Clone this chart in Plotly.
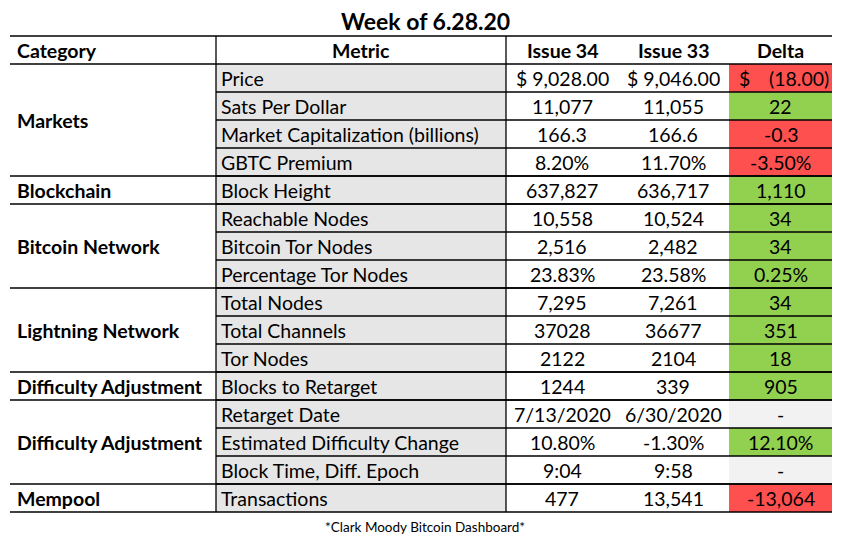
import plotly.graph_objects as go

title = "Week of 6.28.20"
headers = ["Category", "Metric", "Issue 34", "Issue 33", "Delta"]
groups = [("Markets", 4), ("Blockchain", 1), ("Bitcoin Network", 3), ("Lightning Network", 3),
          ("Difficulty Adjustment", 1), ("Difficulty Adjustment", 3), ("Mempool", 1)]
metrics = ["Price", "Sats Per Dollar", "Market Capitalization (billions)", "GBTC Premium",
           "Block Height", "Reachable Nodes", "Bitcoin Tor Nodes", "Percentage Tor Nodes",
           "Total Nodes", "Total Channels", "Tor Nodes", "Blocks to Retarget",
           "Retarget Date", "Estimated Difficulty Change", "Block Time, Diff. Epoch", "Transactions"]
issue34 = ["$ 9,028.00", "11,077", "166.3", "8.20%", "637,827", "10,558", "2,516", "23.83%",
           "7,295", "37028", "2122", "1244", "7/13/2020", "10.80%", "9:04", "477"]
issue33 = ["$ 9,046.00", "11,055", "166.6", "11.70%", "636,717", "10,524", "2,482", "23.58%",
           "7,261", "36677", "2104", "339", "6/30/2020", "-1.30%", "9:58", "13,541"]
delta = ["$ (18.00)", "22", "-0.3", "-3.50%", "1,110", "34", "34", "0.25%",
         "34", "351", "18", "905", "-", "12.10%", "-", "-13,064"]
delta_sign = ["neg", "pos", "neg", "neg", "pos", "pos", "pos", "pos",
              "pos", "pos", "pos", "pos", "none", "pos", "none", "neg"]
footnote = "*Clark Moody Bitcoin Dashboard*"

W, H = 853, 552
OFF = 8  # page body margin
X0, XM, XI, XD, X1 = 10, 216, 506, 729, 832
C34, C33 = 562, 673
TOP, HH, RH = 36, 28, 28
FONT = "Lato, 'Open Sans', sans-serif"
FS = 19.5
fills = {"pos": "#92d050", "neg": "#ff5050", "none": "#f2f2f2"}

shapes, ann = [], []
def rect(x0, y0, x1, y1, c):
    shapes.append(dict(type="rect", x0=x0, x1=x1, y0=y0, y1=y1, fillcolor=c, line_width=0, layer="below"))
def hline(x0, x1, y):
    shapes.append(dict(type="line", x0=x0, x1=x1, y0=y, y1=y, line=dict(color="black", width=1.3)))
def txt(x, y, s, anchor="center", bold=False, size=FS):
    ann.append(dict(x=x, y=y, text=f"<b>{s}</b>" if bold else s, showarrow=False, xanchor=anchor,
                    yanchor="middle", font=dict(family=FONT, size=size, color="black")))

ry = lambda i: TOP + HH + i * RH
for i, m in enumerate(metrics):
    rect(XM, ry(i), XI, ry(i + 1), "#e7e6e6")
    rect(XD, ry(i), X1, ry(i + 1), fills[delta_sign[i]])
txt(X0 + 5, TOP + HH / 2, headers[0], "left", True)
txt((XM + XI) / 2, TOP + HH / 2, headers[1], bold=True)
txt(C34, TOP + HH / 2, headers[2], bold=True)
txt(C33, TOP + HH / 2, headers[3], bold=True)
txt((XD + X1) / 2, TOP + HH / 2, headers[4], bold=True)
hline(X0, X1, TOP)
hline(X0, X1, TOP + HH)
for i, m in enumerate(metrics):
    yc = ry(i) + RH / 2
    txt(XM + 3, yc, m, "left")
    txt(C34, yc, issue34[i])
    txt(C33, yc, issue33[i])
    d = delta[i]
    if d.startswith("$ "):
        txt(XD + 8, yc, "$", "left")
        txt(X1 - 1, yc, d[2:].strip(), "right")
    else:
        txt((XD + X1) / 2, yc, d)
    if i > 0:
        hline(XM, X1, ry(i))
r = 0
for name, n in groups:
    txt(X0 + 5, (ry(r) + ry(r + n)) / 2, name, "left", True)
    r += n
    hline(X0, X1, ry(r))
for x in (XM, XI):
    shapes.append(dict(type="line", x0=x, x1=x, y0=TOP, y1=ry(len(metrics)), line=dict(color="black", width=1.3)))
txt(425, 21, title, bold=True, size=23)
txt(425, 527, footnote, size=13.5)

fig = go.Figure()
fig.update_layout(width=W, height=H, margin=dict(l=0, r=0, t=0, b=0), plot_bgcolor="white",
                  paper_bgcolor="white", shapes=shapes, annotations=ann,
                  xaxis=dict(range=[OFF, W + OFF], visible=False),
                  yaxis=dict(range=[H + OFF, OFF], visible=False))
fig.write_html("out.html")
